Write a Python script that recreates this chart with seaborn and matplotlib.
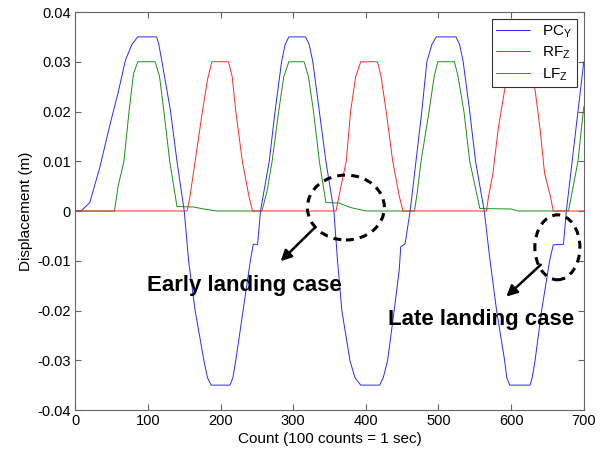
import matplotlib
matplotlib.use("Agg")
import matplotlib.pyplot as plt
import matplotlib.colors as mcolors
import seaborn as sns
import pandas as pd
from matplotlib.patches import Ellipse

# ---------------- data ----------------
pc_x = [0, 8, 20, 34, 48, 59, 69, 78, 86, 112, 115, 119, 131, 140, 150, 156, 165, 177, 182, 187,
        213, 217, 221, 231, 241, 245, 251, 255, 267, 275, 284, 289, 294, 317, 322, 327, 336, 345, 356, 361,
        367, 378, 385, 393, 419, 424, 430, 439, 446, 448, 454, 461, 469, 477, 484, 491, 497, 524, 529, 534,
        543, 551, 563, 571, 580, 591, 594, 598, 626, 629, 633, 642, 653, 658, 672, 676, 684, 692, 700]
pc_y = [0, 0, 0.0017, 0.0089, 0.0175, 0.0238, 0.0303, 0.0335, 0.035, 0.035, 0.0335, 0.0303, 0.0202, 0.01, 0, -0.01, -0.02, -0.03, -0.0335, -0.035,
        -0.035, -0.0335, -0.03, -0.02, -0.01, -0.0067, -0.0067, 0, 0.01, 0.02, 0.03, 0.0335, 0.035, 0.035, 0.0335, 0.03, 0.02, 0.01, 0, -0.01,
        -0.02, -0.03, -0.0335, -0.035, -0.035, -0.0335, -0.03, -0.02, -0.0118, -0.0072, -0.0066, 0, 0.01, 0.02, 0.03, 0.0335, 0.035, 0.035, 0.0335, 0.03,
        0.02, 0.01, 0, -0.01, -0.02, -0.03, -0.0335, -0.035, -0.035, -0.0335, -0.03, -0.02, -0.01, -0.0068, -0.0067, 0, 0.01, 0.02, 0.03]

rf_x = [0, 54, 59, 67, 74, 80, 86, 110, 116, 122, 130, 140, 163, 177, 195, 257, 264, 271, 280, 287,
        294, 315, 321, 328, 336, 345, 363, 379, 400, 467, 471, 476, 487, 494, 499, 522, 527, 535, 543, 557,
        600, 610, 679, 692, 700]
rf_y = [0, 0, 0.005, 0.01, 0.02, 0.0275, 0.03, 0.03, 0.027, 0.02, 0.01, 0.0009, 0.0008, 0.0004, 0, 0, 0.004, 0.01, 0.02, 0.027,
        0.03, 0.03, 0.027, 0.02, 0.01, 0.0017, 0.0016, 0.0007, 0, 0, 0.004, 0.01, 0.02, 0.027, 0.03, 0.03, 0.027, 0.02, 0.01, 0.0005,
        0.0004, 0, 0, 0.01, 0.021]

lf_x = [0, 154, 158, 165, 175, 182, 188, 211, 216, 221, 230, 239, 244, 359, 363, 373, 379, 386, 393, 416,
        421, 428, 437, 446, 451, 566, 569, 575, 582, 591, 598, 626, 633, 640, 646, 654, 658, 700]
lf_y = [0, 0, 0.003, 0.01, 0.02, 0.0264, 0.03, 0.03, 0.027, 0.02, 0.01, 0.003, 0, 0, 0.003, 0.01, 0.02, 0.027, 0.03, 0.03,
        0.027, 0.02, 0.01, 0.003, 0, 0, 0.003, 0.0076, 0.0163, 0.0243, 0.03, 0.03, 0.0243, 0.0163, 0.0076, 0.003, 0, 0]

series_names = ["PC$_\\mathrm{Y}$", "RF$_\\mathrm{Z}$", "LF$_\\mathrm{Z}$"]
series_colors = ["#2a2aff", "#1a8f1a", "#ff2a2a"]

x_ticks = [0, 100, 200, 300, 400, 500, 600, 700]
x_tick_labels = ["0", "100", "200", "300", "400", "500", "600", "700"]
y_ticks = [-0.04, -0.03, -0.02, -0.01, 0, 0.01, 0.02, 0.03, 0.04]
y_tick_labels = ["-0.04", "-0.03", "-0.02", "-0.01", "0", "0.01", "0.02", "0.03", "0.04"]

x_label = "Count (100 counts = 1 sec)"
y_label = "Displacement (m)"
note_early = "Early landing case"
note_late = "Late landing case"

# ---------------- build table ----------------
frames = []
for name, xs, ys in zip(series_names, [pc_x, rf_x, lf_x], [pc_y, rf_y, lf_y]):
    frames.append(pd.DataFrame({"count": xs, "disp": ys, "series": name}))
df = pd.concat(frames, ignore_index=True)

# ---------------- style ----------------
sns.set_style("white")
plt.rcParams["font.family"] = ["Liberation Sans", "DejaVu Sans"]
plt.rcParams["mathtext.fontset"] = "custom"
plt.rcParams["mathtext.rm"] = "Liberation Sans"
plt.rcParams["text.color"] = "black"
plt.rcParams["axes.labelcolor"] = "black"
plt.rcParams["xtick.color"] = "black"
plt.rcParams["ytick.color"] = "black"

fig = plt.figure(figsize=(6.1, 4.55), dpi=100)
ax = fig.add_axes([0.1234, 0.0989, 0.8336, 0.8747])

sns.lineplot(data=df, x="count", y="disp", hue="series", hue_order=series_names,
             palette=dict(zip(series_names, series_colors)), estimator=None, sort=False,
             linewidth=0.7, ax=ax, legend=False)

ax.set_xlim(0, 700)
ax.set_ylim(-0.04, 0.04)
ax.set_xticks(x_ticks)
ax.set_xticklabels(x_tick_labels)
ax.set_yticks(y_ticks)
ax.set_yticklabels(y_tick_labels)
ax.tick_params(direction="in", length=4, width=0.8, labelsize=10.5,
               top=True, right=True, bottom=True, left=True, pad=3)
ax.tick_params(color="#666666")
for s in ax.spines.values():
    s.set_color("#666666")
    s.set_linewidth(0.8)
ax.set_xlabel(x_label, fontsize=11, labelpad=3)
ax.set_ylabel(y_label, fontsize=11, labelpad=3)

# legend: pick the drawn line of each series by its colour
handles = []
for c in series_colors:
    for ln in ax.get_lines():
        if mcolors.to_hex(ln.get_color()) == mcolors.to_hex(c):
            handles.append(ln)
            break
leg = ax.legend(handles, series_names, loc="upper right", fontsize=11, frameon=True,
                fancybox=False, edgecolor="#333333", framealpha=1, handlelength=2.2,
                labelspacing=0.3, borderaxespad=0.45, borderpad=0.3, handletextpad=0.8)
leg.get_frame().set_linewidth(0.8)

# annotations
dash = (0, (2.6, 2.0))
ax.add_patch(Ellipse((372.5, 0.0007), 106, 0.01305, fill=False, edgecolor="black",
                     linewidth=2.2, linestyle=dash, zorder=5))
ax.add_patch(Ellipse((663.7, -0.0073), 62, 0.01305, fill=False, edgecolor="black",
                     linewidth=2.2, linestyle=dash, zorder=5))
ax.annotate("", xy=(282.7, -0.0101), xytext=(328.6, -0.0035),
            arrowprops=dict(arrowstyle="-|>", color="black", lw=1.8, mutation_scale=16,
                            shrinkA=0, shrinkB=0))
ax.annotate("", xy=(593.4, -0.0172), xytext=(640.8, -0.0108),
            arrowprops=dict(arrowstyle="-|>", color="black", lw=1.8, mutation_scale=16,
                            shrinkA=0, shrinkB=0))
ax.text(99, -0.0149, note_early, fontsize=16, fontweight="bold", ha="left", va="center")
ax.text(430, -0.0219, note_late, fontsize=16, fontweight="bold", ha="left", va="center")

fig.savefig("out.png", dpi=100)
